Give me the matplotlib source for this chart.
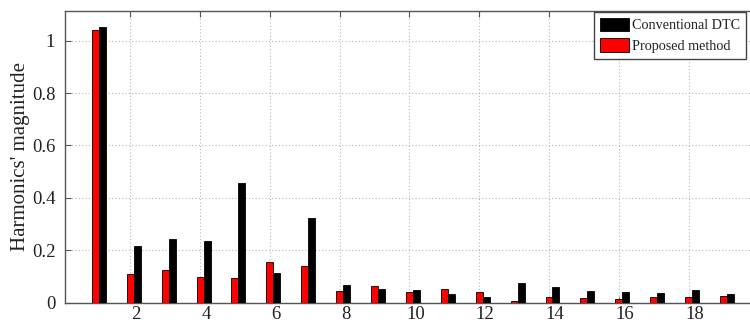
import matplotlib
matplotlib.use("Agg")
import matplotlib.pyplot as plt
import matplotlib.transforms as mtransforms
import numpy as np

harmonics = list(range(1, 20))
conventional_dtc = [1.053, 0.216, 0.242, 0.237, 0.458, 0.115, 0.323, 0.066, 0.051, 0.050,
                    0.033, 0.020, 0.076, 0.059, 0.045, 0.042, 0.038, 0.050, 0.032]
proposed_method = [1.041, 0.110, 0.125, 0.099, 0.094, 0.155, 0.141, 0.045, 0.062, 0.040,
                   0.051, 0.042, 0.007, 0.020, 0.018, 0.013, 0.023, 0.023, 0.026]
x_ticks = [2, 4, 6, 8, 10, 12, 14, 16, 18]
y_ticks = [0, 0.2, 0.4, 0.6, 0.8, 1]
y_ticklabels = ["0", "0.2", "0.4", "0.6", "0.8", "1"]

plt.rcParams['font.family'] = ['Liberation Serif', 'DejaVu Serif']

fig = plt.figure(figsize=(7.5, 3.25), dpi=100)
ax = fig.add_axes([65/750, 22.3/325, 685/750, 291.7/325])

x = np.array(harmonics, dtype=float)
w = 0.2
ax.bar(x + 0.2, conventional_dtc, width=w, color='black', edgecolor='black',
       linewidth=0.6, label='Conventional DTC', zorder=3)
ax.bar(x, proposed_method, width=w, color='#ff0000', edgecolor='black',
       linewidth=0.6, label='Proposed method', zorder=3)

ax.set_xlim(0.13, 19.76)
ax.set_ylim(0, 1.113)
ax.set_xticks(x_ticks)
ax.set_xticklabels([str(t) for t in x_ticks])
ax.set_yticks(y_ticks)
ax.set_yticklabels(y_ticklabels)

ax.grid(True, linestyle=(0, (1, 2)), color='#b8b8b8', linewidth=0.8, zorder=0)
ax.tick_params(axis='both', direction='in', length=4, width=0.8, colors='#555555',
               labelcolor='#222222', labelsize=13.5, top=True, right=False)
ax.tick_params(axis='y', pad=7)
ax.tick_params(axis='x', pad=2.5)

# labels in the reference sit a little right of their ticks
offset = mtransforms.ScaledTranslation(6/100, 0, fig.dpi_scale_trans)
for lbl in ax.get_xticklabels():
    lbl.set_transform(lbl.get_transform() + offset)

for side in ['left', 'bottom', 'top']:
    ax.spines[side].set_color('#555555')
    ax.spines[side].set_linewidth(1.0)
ax.spines['right'].set_visible(False)

ax.set_ylabel("Harmonics' magnitude", fontsize=15, color='#222222', labelpad=1)

leg = ax.legend(loc='upper left', bbox_to_anchor=((594-65)/685, (302.7-12)/291.7),
                borderaxespad=0, fontsize=10.2, frameon=True, fancybox=False,
                edgecolor='#444444', handlelength=2.1, handleheight=1.05,
                handletextpad=0.2, labelspacing=0.45, borderpad=0.4)
leg.get_frame().set_linewidth(1.0)
leg.get_frame().set_alpha(1)
for t in leg.get_texts():
    t.set_color('#222222')

fig.savefig('out.png', dpi=100)
